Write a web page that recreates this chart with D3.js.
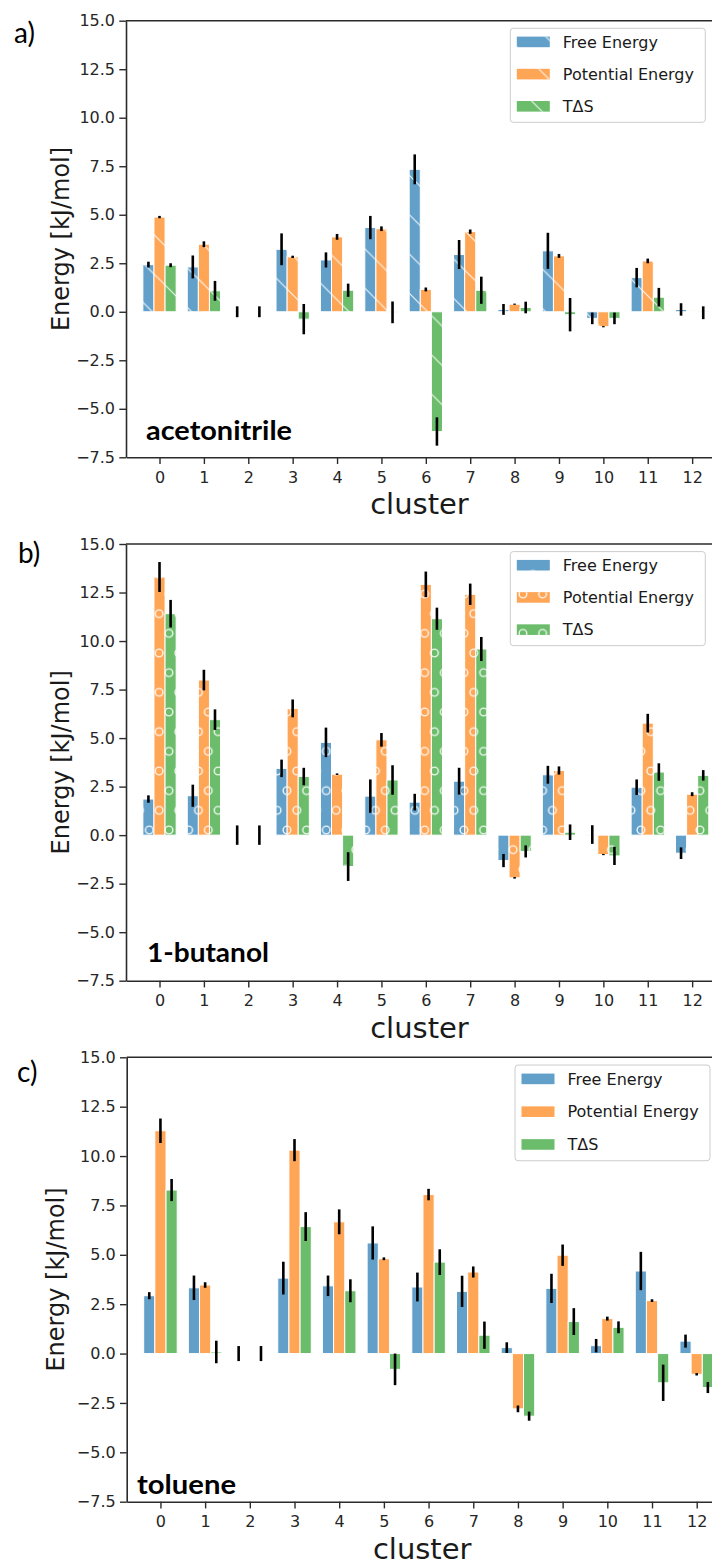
<!DOCTYPE html>
<html>
<head>
<meta charset="utf-8">
<script src="https://cdn.jsdelivr.net/npm/d3@7"></script>
<style>
    html, body { margin: 0; padding: 0; background: #ffffff; }
    svg { display: block; }
</style>
</head>
<body>
<div id="chart"></div>
<script>
// categories and ticks
const clusters = [0, 1, 2, 3, 4, 5, 6, 7, 8, 9, 10, 11, 12];
const yTicks = [15, 12.5, 10, 7.5, 5, 2.5, 0, -2.5, -5, -7.5];
const seriesNames = ['Free Energy', 'Potential Energy', 'TΔS'];
const seriesColors = ['#62a0ca', '#ffa556', '#6bbc6b'];

// a) acetonitrile
const acnFree = [2.43, 2.31, 0, 3.22, 2.67, 4.34, 7.34, 2.95, 0.12, 3.14, -0.34, 1.76, 0.12];
const acnFreeErr = [0.15, 0.59, 0.28, 0.82, 0.39, 0.60, 0.77, 0.75, 0.28, 0.93, 0.30, 0.50, 0.32];
const acnPot = [4.88, 3.48, 0, 2.83, 3.86, 4.28, 1.15, 4.13, 0.39, 2.88, -0.77, 2.62, 0.05];
const acnPotErr = [0.06, 0.15, 0, 0.06, 0.15, 0.12, 0.10, 0.11, 0.03, 0.10, 0.03, 0.12, 0];
const acnTds = [2.40, 1.08, 0, -0.38, 1.11, -0.03, -6.17, 1.11, 0.22, -0.15, -0.34, 0.75, -0.05];
const acnTdsErr = [0.10, 0.51, 0.28, 0.78, 0.34, 0.56, 0.73, 0.70, 0.30, 0.86, 0.30, 0.48, 0.33];

// b) 1-butanol
const butFree = [1.86, 2.03, 0, 3.44, 4.78, 2.01, 1.70, 2.78, -1.31, 3.11, 0.03, 2.47, -0.93];
const butFreeErr = [0.19, 0.57, 0.50, 0.45, 0.76, 0.86, 0.43, 0.69, 0.34, 0.46, 0.48, 0.40, 0.30];
const butPot = [13.30, 7.99, 0, 6.53, 3.14, 4.91, 12.92, 12.41, -2.20, 3.33, -1.00, 5.77, 2.11];
const butPotErr = [0.77, 0.53, 0, 0.46, 0.04, 0.35, 0.66, 0.55, 0.04, 0.21, 0.03, 0.48, 0.10];
const butTds = [11.41, 5.95, 0, 3.02, -1.62, 2.84, 11.15, 9.59, -0.84, 0.15, -1.07, 3.25, 3.08];
const butTdsErr = [0.71, 0.53, 0.50, 0.45, 0.74, 0.76, 0.57, 0.62, 0.31, 0.40, 0.47, 0.45, 0.27];

// c) toluene
const tolFree = [2.93, 3.33, 0, 3.82, 3.43, 5.60, 3.37, 3.15, 0.30, 3.30, 0.40, 4.18, 0.63];
const tolFreeErr = [0.18, 0.62, 0.38, 0.83, 0.52, 0.84, 0.73, 0.79, 0.27, 0.74, 0.34, 0.97, 0.33];
const tolPot = [11.28, 3.47, 0, 10.30, 6.67, 4.80, 8.05, 4.13, -2.80, 4.98, 1.77, 2.68, -1.05];
const tolPotErr = [0.62, 0.14, 0, 0.56, 0.63, 0.07, 0.29, 0.28, 0.17, 0.54, 0.10, 0.07, 0.06];
const tolTds = [8.28, 0.08, 0, 6.43, 3.18, -0.80, 4.63, 0.93, -3.17, 1.62, 1.33, -1.48, -1.72];
const tolTdsErr = [0.56, 0.57, 0.38, 0.73, 0.58, 0.80, 0.65, 0.69, 0.23, 0.68, 0.30, 0.92, 0.28];

const panels = [
    { tag: 'a)', solvent: 'acetonitrile', hatch: 'url(#hatch-diag)',
      values: [acnFree, acnPot, acnTds], errors: [acnFreeErr, acnPotErr, acnTdsErr],
      left: 126, right: 713, top: 20.7, bottom: 457.3,
      tagX: 14, tagY: 43, solventX: 146, solventY: 440, solventW: 146, ylabX: 69 },
    { tag: 'b)', solvent: '1-butanol', hatch: 'url(#hatch-circ)',
      values: [butFree, butPot, butTds], errors: [butFreeErr, butPotErr, butTdsErr],
      left: 126, right: 713, top: 544, bottom: 980.7,
      tagX: 18, tagY: 563, solventX: 147, solventY: 962, solventW: 122, ylabX: 69 },
    { tag: 'c)', solvent: 'toluene', hatch: null,
      values: [tolFree, tolPot, tolTds], errors: [tolFreeErr, tolPotErr, tolTdsErr],
      left: 126.7, right: 717.7, top: 1057.3, bottom: 1501.7,
      tagX: 17, tagY: 1082, solventX: 137, solventY: 1494, solventW: 99, ylabX: 64 }
];

const W = 712, H = 1568;
const barW = 0.25;
const tickFont = '"DejaVu Sans", sans-serif';

const svg = d3.select('#chart').append('svg')
    .attr('width', W)
    .attr('height', H);

// hatch patterns (anchored to the page, like matplotlib)
const defs = svg.append('defs');
const P = 39.33;
const diag = defs.append('pattern')
    .attr('id', 'hatch-diag')
    .attr('patternUnits', 'userSpaceOnUse')
    .attr('x', 0).attr('y', 120 % P)
    .attr('width', P).attr('height', P);
diag.append('path')
    .attr('d', `M0,0L${P},${P}M-2,${P - 2}L2,${P + 2}M${P - 2},-2L${P + 2},2`)
    .attr('stroke', '#ffffff')
    .attr('stroke-opacity', 0.85)
    .attr('stroke-width', 1.2);

const s = P / 2;
const circ = defs.append('pattern')
    .attr('id', 'hatch-circ')
    .attr('patternUnits', 'userSpaceOnUse')
    .attr('x', 149.3).attr('y', 830)
    .attr('width', s).attr('height', P);
[[0, 0], [s, 0], [0, P], [s, P], [s / 2, s]].forEach(([cx, cy]) => {
    circ.append('circle')
        .attr('cx', cx).attr('cy', cy).attr('r', 3.8)
        .attr('fill', 'none')
        .attr('stroke', '#ffffff')
        .attr('stroke-opacity', 0.9)
        .attr('stroke-width', 1.4);
});

panels.forEach(p => drawPanel(p));

function drawPanel(p) {
    const g = svg.append('g');

    const x = d3.scaleLinear().domain([-0.755, 12.47]).range([p.left, p.right]);
    const y = d3.scaleLinear().domain([-7.5, 15]).range([p.bottom, p.top]);
    const bw = x(barW) - x(0);

    // bars
    p.values.forEach((vals, si) => {
        const off = (si - 1) * barW;
        const rects = clusters.map((c, i) => ({
            x: x(c + off) - bw / 2,
            y: y(Math.max(0, vals[i])),
            h: Math.abs(y(vals[i]) - y(0))
        }));
        g.append('g').selectAll('rect')
            .data(rects)
            .enter()
            .append('rect')
            .attr('x', d => d.x).attr('y', d => d.y)
            .attr('width', bw).attr('height', d => d.h)
            .attr('fill', seriesColors[si]);
        if (p.hatch) {
            g.append('g').selectAll('rect')
                .data(rects)
                .enter()
                .append('rect')
                .attr('x', d => d.x).attr('y', d => d.y)
                .attr('width', bw).attr('height', d => d.h)
                .attr('fill', p.hatch);
        }
        g.append('g').selectAll('rect')
            .data(rects.filter(d => d.h > 0.3))
            .enter()
            .append('rect')
            .attr('x', d => d.x).attr('y', d => d.y)
            .attr('width', bw).attr('height', d => d.h)
            .attr('fill', 'none')
            .attr('stroke', '#ffffff')
            .attr('stroke-width', 1);
    });

    // error bars
    p.values.forEach((vals, si) => {
        const off = (si - 1) * barW;
        const errs = p.errors[si];
        g.append('g').selectAll('line')
            .data(clusters.filter((c, i) => errs[i] > 0))
            .enter()
            .append('line')
            .attr('x1', c => x(c + off)).attr('x2', c => x(c + off))
            .attr('y1', c => y(vals[c] - errs[c]))
            .attr('y2', c => y(vals[c] + errs[c]))
            .attr('stroke', '#000000')
            .attr('stroke-width', 2.6);
    });

    // axes
    const yAxis = g.append('g')
        .attr('transform', `translate(${p.left},0)`)
        .call(d3.axisLeft(y).tickValues(yTicks).tickFormat(d3.format('.1f'))
            .tickSize(6.7).tickSizeOuter(0).tickPadding(4.3));
    const xAxis = g.append('g')
        .attr('transform', `translate(0,${p.bottom})`)
        .call(d3.axisBottom(x).tickValues(clusters).tickFormat(d3.format('d'))
            .tickSize(6.7).tickSizeOuter(0).tickPadding(7.7));
    [yAxis, xAxis].forEach(a => {
        a.selectAll('path.domain').attr('stroke', '#2b2b2b').attr('stroke-width', 1.6);
        a.selectAll('.tick line').attr('stroke', '#2b2b2b').attr('stroke-width', 1.4);
        a.selectAll('.tick text')
            .style('font-family', tickFont)
            .style('font-size', '16px')
            .attr('fill', '#262626');
    });
    g.append('line')
        .attr('x1', p.left).attr('x2', p.right)
        .attr('y1', p.top).attr('y2', p.top)
        .attr('stroke', '#2b2b2b').attr('stroke-width', 1.6);

    // axis titles
    g.append('text')
        .attr('x', (p.left + p.right) / 2)
        .attr('y', p.bottom + 57)
        .attr('text-anchor', 'middle')
        .style('font-family', tickFont)
        .style('font-size', '29px')
        .attr('fill', '#1a1a1a')
        .text('cluster');
    g.append('text')
        .attr('transform', `translate(${p.ylabX},${(p.top + p.bottom) / 2}) rotate(-90)`)
        .attr('text-anchor', 'middle')
        .style('font-family', tickFont)
        .style('font-size', '24px')
        .attr('fill', '#1a1a1a')
        .text('Energy [kJ/mol]');

    // panel tag and solvent name
    g.append('text')
        .attr('x', p.tagX).attr('y', p.tagY)
        .style('font-family', 'Lato, "Open Sans", sans-serif')
        .style('font-size', '28px')
        .attr('fill', '#000000')
        .text(p.tag);
    g.append('text')
        .attr('x', p.solventX).attr('y', p.solventY)
        .attr('textLength', p.solventW)
        .attr('lengthAdjust', 'spacingAndGlyphs')
        .style('font-family', 'Lato, "Open Sans", sans-serif')
        .style('font-weight', 'bold')
        .style('font-size', '27px')
        .attr('fill', '#000000')
        .text(p.solvent);

    // legend
    const k = (y(0) - y(1)) / 19.4;
    const ox = p.right - 7.7 - 195;
    const oy = p.top + 7.6 * k;
    const lg = g.append('g')
        .attr('transform', `translate(${ox},${oy})`);
    lg.append('rect')
        .attr('width', 195).attr('height', 94 * k)
        .attr('rx', 3)
        .attr('fill', '#ffffff').attr('fill-opacity', 0.8)
        .attr('stroke', '#cccccc').attr('stroke-width', 1);
    seriesNames.forEach((name, i) => {
        const ry = (13.6 + i * 32.2) * k;
        lg.append('rect')
            .attr('x', 6.5).attr('y', ry - 5.3)
            .attr('width', 33).attr('height', 10.6)
            .attr('fill', seriesColors[i]);
        if (p.hatch) {
            // pattern is page-anchored, so draw the hatch patch in page coords
            g.append('rect')
                .attr('x', ox + 6.5).attr('y', oy + ry - 5.3)
                .attr('width', 33).attr('height', 10.6)
                .attr('fill', p.hatch);
        }
        lg.append('text')
            .attr('x', 52.5).attr('y', ry)
            .attr('dy', '0.36em')
            .style('font-family', tickFont)
            .style('font-size', '16px')
            .attr('fill', '#1a1a1a')
            .text(name);
    });
}
</script>
</body>
</html>
